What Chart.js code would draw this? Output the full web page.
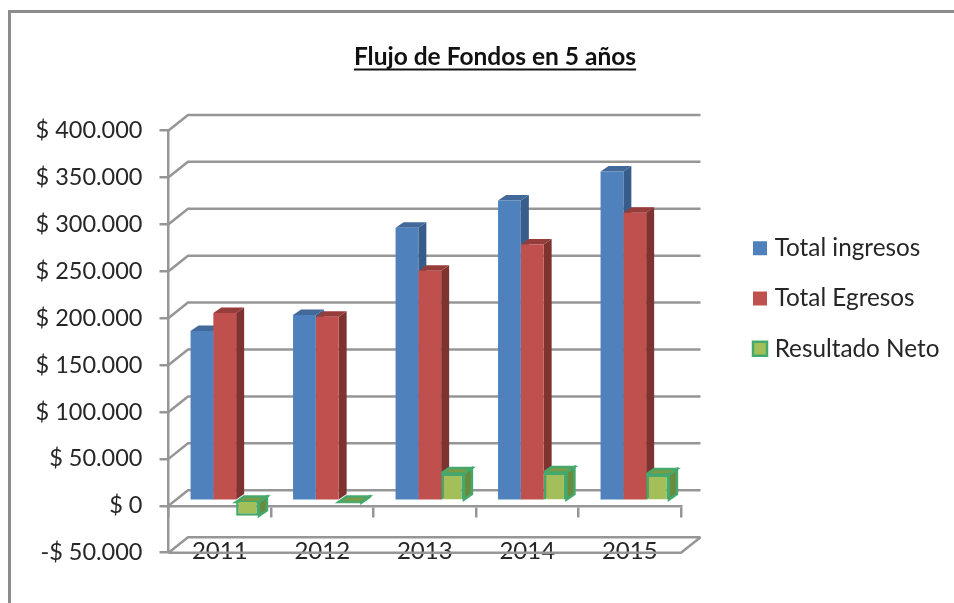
<!DOCTYPE html>
<html lang="es">

<head>
    <meta charset="UTF-8">
    <title>Flujo de Fondos en 5 años</title>
    <style>
        html, body { margin: 0; padding: 0; background: #fff; }
        #contenedor { position: relative; width: 954px; height: 603px; }
    </style>
    <script src="https://cdn.jsdelivr.net/npm/chart.js"></script>
</head>

<body>
    <div id="contenedor">
        <canvas id="graficoFlujo" width="954" height="603"></canvas>
    </div>

    <script>
        const categorias = ['2011', '2012', '2013', '2014', '2015'];
        const totalIngresos = [181000, 198000, 291000, 320000, 351000];
        const totalEgresos = [200000, 196000, 245000, 273000, 307000];
        const resultadoNeto = [-16000, -2000, 29000, 30000, 28000];
        const etiquetasY = ['-$ 50.000', '$ 0', '$ 50.000', '$ 100.000', '$ 150.000', '$ 200.000', '$ 250.000', '$ 300.000', '$ 350.000', '$ 400.000'];

        const gris = '#969696';
        const texto = '#262626';
        const fuente = 'Lato';

        // colores de las caras del efecto 3D: lado y tapa
        const caras = [
            { lado: '#385d8a', tapa: '#43699a' },
            { lado: '#7f3331', tapa: '#963c3a' },
            { lado: '#6a8a3c', tapa: '#7d9a45' }
        ];

        // el frente de las barras va corrido respecto del eje, como en Excel
        const corrimiento = { x: 5, y: -5 };
        const fondoBarra = { x: 8, y: -5.5 };
        const fondoPared = { x: 19.5, y: -15.5 };

        function linea(ctx, puntos) {
            ctx.beginPath();
            puntos.forEach((p, i) => i ? ctx.lineTo(p[0], p[1]) : ctx.moveTo(p[0], p[1]));
            ctx.stroke();
        }

        function poligono(ctx, puntos, relleno, borde) {
            ctx.beginPath();
            puntos.forEach((p, i) => i ? ctx.lineTo(p[0], p[1]) : ctx.moveTo(p[0], p[1]));
            ctx.closePath();
            ctx.fillStyle = relleno;
            ctx.fill();
            if (borde) {
                ctx.strokeStyle = borde;
                ctx.lineWidth = 2.5;
                ctx.stroke();
            }
        }

        const efecto3d = {
            id: 'efecto3d',
            beforeLayout(chart) {
                // la leyenda ocupa mas ancho para que el area del grafico termine donde debe
                const leyenda = chart.legend;
                const fit = leyenda.fit;
                leyenda.fit = function () {
                    fit.call(this);
                    this.width = 273;
                };
            },
            afterLayout(chart) {
                // leyenda y titulo no van donde los deja el layout
                const leyenda = chart.legend;
                leyenda.left = 731.5;
                leyenda.right = 954;
                leyenda.top = 210;
                leyenda.bottom = 603;
                chart.titleBlock.left += 18;
                chart.titleBlock.right += 18;
            },
            beforeDraw(chart) {
                const ctx = chart.ctx;
                ctx.save();
                ctx.fillStyle = '#fff';
                ctx.fillRect(0, 0, chart.width, chart.height);
                ctx.strokeStyle = '#8c8c8c';
                ctx.lineWidth = 3;
                linea(ctx, [[9.5, 603], [9.5, 11.5], [954, 11.5]]);
                ctx.restore();
            },
            beforeDatasetsDraw(chart) {
                const ctx = chart.ctx;
                const area = chart.chartArea;
                const escalaY = chart.scales.y;
                ctx.save();
                ctx.strokeStyle = gris;
                ctx.lineWidth = 2.5;
                escalaY.ticks.forEach(tick => {
                    const y = escalaY.getPixelForValue(tick.value);
                    linea(ctx, [[area.left, y], [area.left + fondoPared.x, y + fondoPared.y], [area.right + fondoPared.x, y + fondoPared.y]]);
                });
                // piso
                const piso = escalaY.getPixelForValue(escalaY.min);
                linea(ctx, [[area.left, piso], [area.right, piso], [area.right + fondoPared.x, piso + fondoPared.y]]);
                ctx.restore();

                // primero todos los lados y tapas, despues Chart.js pinta los frentes encima
                ctx.save();
                ctx.translate(corrimiento.x, corrimiento.y);
                chart.data.datasets.forEach((serie, indice) => {
                    const cara = caras[indice];
                    const borde = serie.borderWidth ? serie.borderColor : null;
                    chart.getDatasetMeta(indice).data.forEach(barra => {
                        const izq = barra.x - barra.width / 2;
                        const der = barra.x + barra.width / 2;
                        const arriba = Math.min(barra.y, barra.base);
                        const abajo = Math.max(barra.y, barra.base);
                        const dx = fondoBarra.x;
                        const dy = fondoBarra.y;
                        poligono(ctx, [[der, arriba], [der + dx, arriba + dy], [der + dx, abajo + dy], [der, abajo]], cara.lado, borde);
                        poligono(ctx, [[izq, arriba], [izq + dx, arriba + dy], [der + dx, arriba + dy], [der, arriba]], cara.tapa, borde);
                    });
                });
                ctx.restore();
            },
            beforeDatasetDraw(chart) {
                chart.ctx.save();
                chart.ctx.translate(corrimiento.x, corrimiento.y);
            },
            afterDatasetDraw(chart) {
                chart.ctx.restore();
            },
            afterDraw(chart) {
                // Chart.js no subraya el titulo
                const ctx = chart.ctx;
                const bloque = chart.titleBlock;
                const centro = (bloque.left + bloque.right) / 2;
                ctx.save();
                ctx.font = 'bold 24.5px ' + fuente;
                const ancho = ctx.measureText(chart.options.plugins.title.text).width;
                ctx.strokeStyle = '#111';
                ctx.lineWidth = 2;
                linea(ctx, [[centro - ancho / 2, 69.5], [centro + ancho / 2, 69.5]]);
                ctx.restore();
            }
        };

        new Chart(document.getElementById('graficoFlujo'), {
            type: 'bar',
            plugins: [efecto3d],
            data: {
                labels: categorias,
                datasets: [{
                    label: 'Total ingresos',
                    data: totalIngresos,
                    backgroundColor: '#4f81bd',
                    borderColor: '#4f81bd',
                    borderWidth: 0
                }, {
                    label: 'Total Egresos',
                    data: totalEgresos,
                    backgroundColor: '#c0504d',
                    borderColor: '#c0504d',
                    borderWidth: 0
                }, {
                    label: 'Resultado Neto',
                    data: resultadoNeto,
                    backgroundColor: '#a2bf5a',
                    borderColor: '#45a86c',
                    borderWidth: 2.5
                }]
            },
            options: {
                responsive: false,
                animation: false,
                categoryPercentage: 0.667,
                barPercentage: 1,
                layout: { padding: { bottom: 50.3 } },
                scales: {
                    x: {
                        position: { y: 0 },
                        grid: { drawOnChartArea: false, color: gris, lineWidth: 2.5, tickLength: 10 },
                        border: { color: gris, width: 2.5 },
                        ticks: { color: texto, font: { family: fuente, size: 24 }, padding: 21, maxRotation: 0 }
                    },
                    y: {
                        min: -50000,
                        max: 400000,
                        afterFit: escala => { escala.width = 168.5; },
                        grid: { drawOnChartArea: false, color: gris, lineWidth: 2.5, tickLength: 9 },
                        border: { color: gris, width: 2.5 },
                        ticks: {
                            stepSize: 50000,
                            color: texto,
                            font: { family: fuente, size: 23.5 },
                            padding: 17,
                            callback: (valor, i) => etiquetasY[i]
                        }
                    }
                },
                plugins: {
                    title: {
                        display: true,
                        text: 'Flujo de Fondos en 5 años',
                        color: '#111',
                        font: { family: fuente, size: 24.5, weight: 'bold' },
                        padding: { top: 42, bottom: 59 }
                    },
                    legend: {
                        position: 'right',
                        align: 'start',
                        labels: {
                            color: texto,
                            font: { family: fuente, size: 24.3 },
                            padding: 26,
                            usePointStyle: true,
                            pointStyle: 'rect',
                            boxWidth: 5,
                            boxHeight: 14
                        }
                    },
                    tooltip: { enabled: false }
                }
            }
        });
    </script>
</body>

</html>
